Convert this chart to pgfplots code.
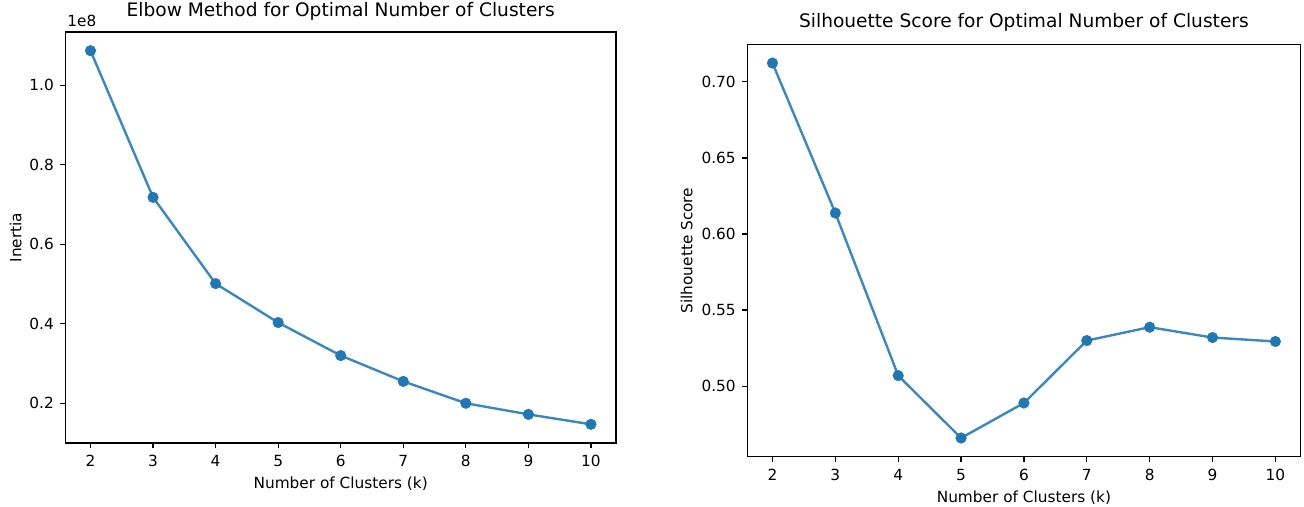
\documentclass[border=0pt]{standalone}
\usepackage{fontspec}
\setmainfont{DejaVu Sans}
\usepackage{pgfplots}
\pgfplotsset{compat=1.18}
\definecolor{mplblue}{HTML}{1F77B4}
\definecolor{mplline}{HTML}{3A88C2}
\newcommand{\tickfont}{\fontsize{11.5}{13.8}\selectfont}
\newcommand{\titlefont}{\fontsize{13.95}{16.7}\selectfont}
\pgfplotsset{mpl/.style={scale only axis,clip=false,axis line style={black,line width=1pt},
  tick align=outside,tick pos=left,major tick length=4pt,
  every tick/.style={black,line width=0.95pt},
  /pgf/number format/assume math mode=true,
  tick label style={font=\tickfont},label style={font=\tickfont},
  xticklabel style={anchor=base,inner sep=0pt,yshift=-13.6pt},
  yticklabel style={anchor=east,inner sep=0pt,xshift=-4.5pt},
  xtick={2,...,10},xmin=1.6,xmax=10.4},
  kplot/.style={mplline,line width=1.8pt,mark=*,mark size=4pt,
    mark options={fill=mplblue,draw=mplblue,line width=0.3pt}}}

\begin{document}
\begin{tikzpicture}
\path[use as bounding box] (0,0) rectangle (978pt,380.25pt);
% elbow
\begin{axis}[mpl,at={(49.1pt,48pt)},anchor=south west,width=412.9pt,height=308.25pt,
  ymin=0.1,ymax=1.134,ytick={0.2,0.4,0.6,0.8,1.0},
  yticklabel style={/pgf/number format/.cd,fixed,fixed zerofill,precision=1},
  scaled y ticks=false,
  title={Elbow Method for Optimal Number of Clusters},
  title style={font=\titlefont,at={(axis description cs:0.5,1.0182)},anchor=base},
  xlabel={Number of Clusters (k)},
  xlabel style={at={(axis description cs:0.5,-0.1119)},anchor=base},
  ylabel={Inertia},
  ylabel style={at={(axis description cs:-0.0799,0.5)},anchor=base}]
\addplot[kplot] coordinates {(2,1.087) (3,0.718) (4,0.501) (5,0.403) (6,0.320) (7,0.255) (8,0.200) (9,0.172) (10,0.147)};
\node[anchor=base west,inner sep=0pt,font=\tickfont] at (axis description cs:0.003,1.0129) {1e8};
\end{axis}
% silhouette
\begin{axis}[mpl,at={(560.5pt,37.7pt)},anchor=south west,width=414.9pt,height=309.3pt,
  ymin=0.4537,ymax=0.7246,ytick={0.50,0.55,0.60,0.65,0.70},
  yticklabel style={/pgf/number format/.cd,fixed,fixed zerofill,precision=2},
  title={Silhouette Score for Optimal Number of Clusters},
  title style={font=\titlefont,at={(axis description cs:0.5,1.0218)},anchor=base},
  xlabel={Number of Clusters (k)},
  xlabel style={at={(axis description cs:0.5,-0.1115)},anchor=base},
  ylabel={Silhouette Score},
  ylabel style={at={(axis description cs:-0.0994,0.5)},anchor=base}]
\addplot[kplot] coordinates {(2,0.7123) (3,0.6138) (4,0.507) (5,0.466) (6,0.489) (7,0.530) (8,0.5388) (9,0.532) (10,0.5294)};
\end{axis}
\end{tikzpicture}
\end{document}
